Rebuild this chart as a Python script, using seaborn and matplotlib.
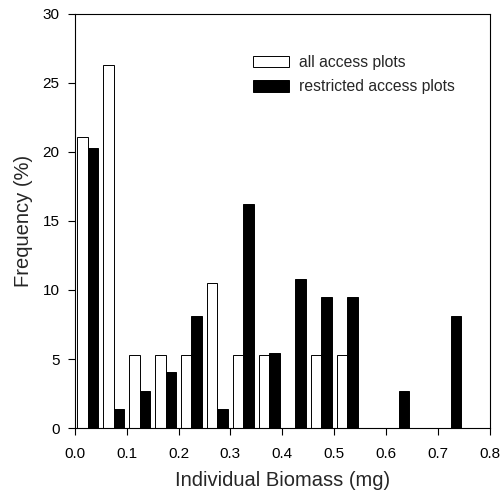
import pandas as pd
import numpy as np
import matplotlib.pyplot as plt
import seaborn as sns

# bin centres (mg) and frequencies (%)
biomass = [0.025, 0.075, 0.125, 0.175, 0.225, 0.275, 0.325, 0.375,
           0.425, 0.475, 0.525, 0.575, 0.625, 0.675, 0.725, 0.775]
all_access = [21.05, 26.32, 5.26, 5.26, 5.26, 10.53, 5.26, 5.26,
              0, 5.26, 5.26, 0, 0, 0, 0, 0]
restricted = [20.27, 1.35, 2.70, 4.05, 8.11, 1.35, 16.22, 5.41,
              10.81, 9.46, 9.46, 0, 2.70, 0, 8.11, 0]
groups = ["all access plots", "restricted access plots"]

df = pd.DataFrame({
    "biomass": biomass * 2,
    "freq": all_access + restricted,
    "group": [groups[0]] * len(biomass) + [groups[1]] * len(biomass),
})

sns.set_style("ticks")
plt.rcParams["font.family"] = ["Liberation Sans", "DejaVu Sans"]

fig = plt.figure(figsize=(5.03, 4.96), dpi=100)
ax = fig.add_axes([0.1485, 0.137, 0.8255, 0.835])

sns.barplot(data=df, x="biomass", y="freq", hue="group", native_scale=True,
            width=0.8, palette=["white", "black"], edgecolor="black",
            linewidth=0.7, saturation=1, ax=ax)

ax.set_xlim(0, 0.8)
ax.set_ylim(0, 30)
ax.set_xticks(np.arange(0, 0.81, 0.1))
ax.set_xticklabels([f"{v:.1f}" for v in np.arange(0, 0.81, 0.1)])
ax.set_yticks(np.arange(0, 31, 5))
ax.tick_params(axis="both", direction="out", length=5, width=0.8,
               labelsize=11, color="black", labelcolor="black")
ax.tick_params(axis="x", pad=8.5)
ax.tick_params(axis="y", pad=6)
for s in ax.spines.values():
    s.set_visible(True)
    s.set_linewidth(0.8)
    s.set_color("black")

ax.set_xlabel("Individual Biomass (mg)", fontsize=14.5)
ax.set_ylabel("Frequency (%)", fontsize=14.5)
ax.xaxis.set_label_coords(0.5, -0.104)
ax.yaxis.set_label_coords(-0.1, 0.5)

ax.legend(loc="upper left", bbox_to_anchor=(0.395, 0.935), frameon=False,
          handlelength=2.3, handleheight=0.75, handletextpad=0.64,
          fontsize=11.3, labelspacing=0.6, title=None)

fig.savefig("out.png", dpi=100)
